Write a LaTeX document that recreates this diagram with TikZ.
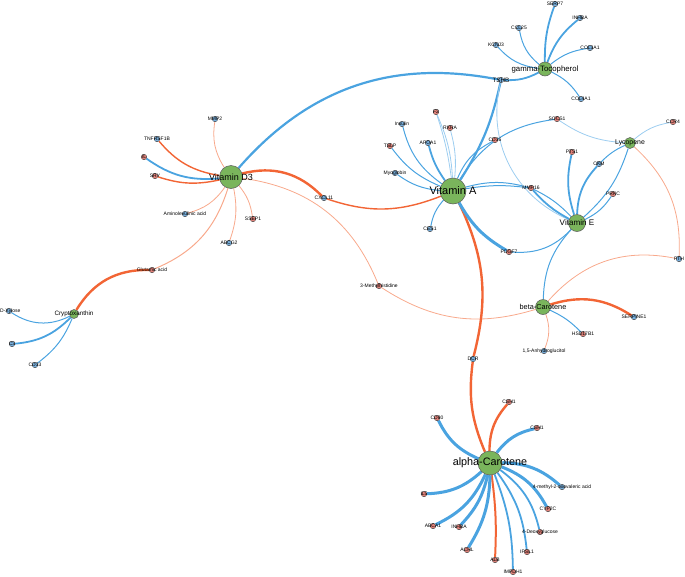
\documentclass[tikz,border=0pt]{standalone}
\usepackage{fontspec}
\setmainfont{Liberation Sans}
\usetikzlibrary{backgrounds}
\definecolor{bl}{HTML}{4AA3E0}
\definecolor{lbl}{HTML}{9CCDF0}
\definecolor{orr}{HTML}{F26535}
\definecolor{lor}{HTML}{F8A98C}
\definecolor{hubg}{HTML}{7AB55C}
\definecolor{nred}{HTML}{E0827A}
\definecolor{nblue}{HTML}{78AEDB}
\begin{document}
\begin{tikzpicture}[x=1pt,y=-1pt,
  hub/.style={circle,draw=black!65,fill=hubg,line width=0.5pt,inner sep=0pt},
  rn/.style={circle,draw=black!75,fill=nred,minimum size=5.5pt,inner sep=0pt,line width=0.4pt},
  bn/.style={circle,draw=black!75,fill=nblue,minimum size=5.5pt,inner sep=0pt,line width=0.4pt},
  sl/.style={font=\fontsize{5}{5}\selectfont,inner sep=0pt},
  hl/.style={inner sep=0pt},
  bthick/.style={draw=bl,line width=3pt},
  bmed/.style={draw=bl,line width=1.8pt},
  bthin/.style={draw=bl,line width=1pt},
  blight/.style={draw=lbl,line width=0.8pt},
  othick/.style={draw=orr,line width=2.4pt},
  omed/.style={draw=orr,line width=1.4pt},
  othin/.style={draw=lor,line width=0.8pt}]
\useasboundingbox (0,0) rectangle (685,576);
% hubs
\node[hub,minimum size=26pt] (vA) at (453,191) {};
\node[hub,minimum size=23pt] (vD) at (231,177) {};
\node[hub,minimum size=14pt] (gT) at (545,69) {};
\node[hub,minimum size=11pt] (ly) at (630,143) {};
\node[hub,minimum size=17pt] (vE) at (577,223) {};
\node[hub,minimum size=15pt] (bC) at (543,307) {};
\node[hub,minimum size=9pt] (cr) at (74,314) {};
\node[hub,minimum size=24pt] (aC) at (490,463) {};
% small nodes
\node[bn] (tshb) at (501,80) {};
\node[bn] (mmp2) at (215,119) {};
\node[bn] (tnf) at (157,139) {};
\node[rn] (il) at (144,157) {};
\node[rn] (sry) at (155,176) {};
\node[bn] (amino) at (185,214) {};
\node[rn] (ssep) at (253,219) {};
\node[bn] (abcg) at (229,243) {};
\node[rn] (glu) at (152,270) {};
\node[bn] (cxcl) at (324,198) {};
\node[bn] (dxyl) at (9,311) {};
\node[bn] (c3) at (12,344) {};
\node[bn] (cd33) at (35,365) {};
\node[rn] (mh) at (379,286) {};
\node[bn] (dcr) at (473,359) {};
\node[rn] (f2) at (436,112) {};
\node[bn] (ins) at (402,124) {};
\node[rn] (rxra) at (450,128) {};
\node[rn] (tslp) at (390,146) {};
\node[bn] (apoa) at (428,143) {};
\node[bn] (myo) at (395,173) {};
\node[rn] (cd36) at (495,140) {};
\node[rn] (mmp16) at (531,188) {};
\node[bn] (ces1) at (430,229) {};
\node[rn] (pdgf) at (509,252) {};
\node[rn] (socs) at (557,119) {};
\node[bn] (serp) at (555,4) {};
\node[bn] (inhba) at (580,18) {};
\node[bn] (col3) at (590,48) {};
\node[bn] (ccl25) at (519,28) {};
\node[bn] (kcnj) at (496,45) {};
\node[bn] (col4) at (581,99) {};
\node[rn] (ccr4) at (673,122) {};
\node[rn] (pts1) at (572,152) {};
\node[bn] (ckm) at (599,164) {};
\node[rn] (prkc) at (613,194) {};
\node[bn] (pth) at (679,259) {};
\node[bn] (serpine) at (634,317) {};
\node[rn] (hsd) at (583,334) {};
\node[bn] (ag) at (544,351) {};
\node[rn] (csh1a) at (509,402) {};
\node[rn] (cd80) at (437,418) {};
\node[rn] (csh1b) at (537,428) {};
\node[bn] (mox) at (562,487) {};
\node[rn] (cyp) at (548,509) {};
\node[rn] (deox) at (540,532) {};
\node[rn] (ipsl) at (527,552) {};
\node[rn] (impdh) at (513,572) {};
\node[rn] (alb) at (495,560) {};
\node[rn] (achl) at (467,550) {};
\node[rn] (inhb2) at (459,527) {};
\node[rn] (abca) at (433,526) {};
\node[rn] (il5) at (424,494) {};
% edges
\begin{pgfonlayer}{background}
\draw[othin] (vD) to[bend left=20] (mmp2);
\draw[omed] (vD) to[bend left=20] (tnf);
\draw[bmed] (vD) to[bend left=20] (il);
\draw[omed] (vD) to[bend left=15] (sry);
\draw[othin] (vD) to[bend left=20] (amino);
\draw[othin] (vD) to[bend left=15] (ssep);
\draw[othin] (vD) to[bend left=15] (abcg);
\draw[othin,line width=1pt] (vD) to[bend left=25] (glu);
\draw[othick] (vD) to[bend left=30] (cxcl);
\draw[othin] (vD) to[bend left=30] (mh);
\draw[bmed,line width=2.2pt] (vD) to[bend left=30] (tshb);
\draw[othick] (glu) to[bend right=30] (cr);
\draw[bthin] (cr) to[bend left=30] (dxyl);
\draw[bmed] (cr) to[bend left=20] (c3);
\draw[bthin] (cr) to[bend left=15] (cd33);
\draw[omed] (cxcl) to[bend right=20] (vA);
\draw[othin] (mh) to[bend right=25] (bC);
\draw[othick] (vA) to[bend left=20] (dcr);
\draw[othick] (dcr) to[bend right=15] (aC);
\draw[blight] (vA) to[bend right=10] (f2);
\draw[blight] (vA) to[bend right=5] (f2);
\draw[bthin] (vA) to[bend left=20] (ins);
\draw[blight] (vA) to[bend right=10] (rxra);
\draw[bthin] (vA) to[bend left=15] (tslp);
\draw[bmed] (vA) to[bend left=10] (apoa);
\draw[bthin] (vA) to[bend left=15] (myo);
\draw[bthin] (vA) to[bend left=20] (cd36);
\draw[bthin] (vA) to[bend left=25] (socs);
\draw[bthin] (vA) to[bend left=15] (mmp16);
\draw[bthin] (vA) to[bend left=8] (mmp16);
\draw[bthin] (vA) to[bend right=15] (ces1);
\draw[bthick] (vA) to[bend right=15] (pdgf);
\draw[bmed,line width=2.2pt] (vA) to[bend right=10] (tshb);
\draw[bmed] (tshb) to[bend right=15] (gT);
\draw[blight] (tshb) to[bend right=40] (vE);
\draw[bthin] (gT) to[bend left=20] (kcnj);
\draw[bthin] (gT) to[bend left=20] (ccl25);
\draw[bmed] (gT) to[bend left=10] (serp);
\draw[bmed] (gT) to[bend left=15] (inhba);
\draw[bthin] (gT) to[bend left=15] (col3);
\draw[bthin] (gT) to[bend left=15] (col4);
\draw[blight] (socs) to[bend right=15] (ly);
\draw[blight] (ly) to[bend left=15] (ccr4);
\draw[bthin] (ly) to[bend right=10] (ckm);
\draw[bthin] (ly) to[bend left=15] (vE);
\draw[othin] (ly) to[bend left=25] (pth);
\draw[bmed] (vE) to[bend left=20] (ckm);
\draw[bmed] (vE) to[bend left=15] (pts1);
\draw[bthin] (vE) to[bend right=15] (prkc);
\draw[bmed] (vE) to[bend left=10] (mmp16);
\draw[bthin] (vE) to[bend right=10] (mmp16);
\draw[bthin] (vE) to[bend left=25] (pdgf);
\draw[bthin] (vE) to[bend right=20] (bC);
\draw[othin] (bC) to[bend left=30] (pth);
\draw[othick] (bC) to[bend left=25] (serpine);
\draw[bthin] (bC) to[bend left=10] (hsd);
\draw[othin] (bC) to[bend left=20] (ag);
\draw[othick] (aC) to[bend left=20] (csh1a);
\draw[bthick] (aC) to[bend left=20] (cd80);
\draw[bthick] (aC) to[bend left=20] (csh1b);
\draw[bthick] (aC) to[bend left=20] (mox);
\draw[bthick] (aC) to[bend left=20] (cyp);
\draw[bmed] (aC) to[bend left=20] (deox);
\draw[bmed] (aC) to[bend left=15] (ipsl);
\draw[bmed] (aC) to[bend left=10] (impdh);
\draw[othick,line width=2pt] (aC) to[bend left=5] (alb);
\draw[bthick] (aC) to[bend left=15] (achl);
\draw[bthick] (aC) to[bend left=15] (inhb2);
\draw[bthick] (aC) to[bend left=20] (abca);
\draw[bthick] (aC) to[bend left=20] (il5);
\end{pgfonlayer}
% hub labels
\node[hl,font=\fontsize{11}{11}\selectfont] at (vA) {Vitamin A};
\node[hl,font=\fontsize{9}{9}\selectfont] at (vD) {Vitamin D3};
\node[hl,font=\fontsize{7.8}{8}\selectfont] at (gT) {gamma-Tocopherol};
\node[hl,font=\fontsize{6.9}{7}\selectfont] at (ly) {Lycopene};
\node[hl,font=\fontsize{8.1}{8}\selectfont] at (vE) {Vitamin E};
\node[hl,font=\fontsize{7.3}{7}\selectfont] at (bC) {beta-Carotene};
\node[hl,font=\fontsize{6.3}{6}\selectfont] at (cr) {Cryptoxanthin};
\node[hl,font=\fontsize{10.8}{11}\selectfont] at (aC) {alpha-Carotene};
\node[hl,font=\fontsize{6.3}{6}\selectfont] at (tshb) {TSHB};
% small labels
\node[sl] at (mmp2) {MMP2};
\node[sl] at (tnf) {TNFRSF1B};
\node[sl] at (il) {IL};
\node[sl] at (sry) {SRY};
\node[sl] at (amino) {Aminolevulinic acid};
\node[sl] at (ssep) {SSEP1};
\node[sl] at (abcg) {ABCG2};
\node[sl] at (glu) {Glutamic acid};
\node[sl] at (cxcl) {CXCL11};
\node[sl,anchor=west] at ([xshift=-9pt]dxyl) {D-Xylose};
\node[sl] at (c3) {C3};
\node[sl] at (cd33) {CD33};
\node[sl] at (mh) {3-Methylhistidine};
\node[sl] at (dcr) {DCR};
\node[sl] at (f2) {F2};
\node[sl] at (ins) {Insulin};
\node[sl] at (rxra) {RXRA};
\node[sl] at (tslp) {TSLP};
\node[sl] at (apoa) {APOA1};
\node[sl] at (myo) {Myoglobin};
\node[sl] at (cd36) {CD36};
\node[sl] at (mmp16) {MMP16};
\node[sl] at (ces1) {CES1};
\node[sl] at (pdgf) {PDGF7};
\node[sl] at (socs) {SOCS1};
\node[sl] at (serp) {SERP7};
\node[sl] at (inhba) {INHBA};
\node[sl] at (col3) {COL3A1};
\node[sl] at (ccl25) {CCL25};
\node[sl] at (kcnj) {KCNJ3};
\node[sl] at (col4) {COL4A1};
\node[sl] at (ccr4) {CCR4};
\node[sl] at (pts1) {PTS1};
\node[sl] at (ckm) {CKM};
\node[sl] at (prkc) {PRKC};
\node[sl] at (pth) {PTH};
\node[sl] at (serpine) {SERPINE1};
\node[sl] at (hsd) {HSD17B1};
\node[sl] at (ag) {1,5-Anhydroglucitol};
\node[sl] at (csh1a) {CSH1};
\node[sl] at (cd80) {CD80};
\node[sl] at (csh1b) {CSH1};
\node[sl] at (mox) {4-methyl-2-oxovaleric acid};
\node[sl] at (cyp) {CYP2C};
\node[sl] at (deox) {4-Deoxyglucose};
\node[sl] at (ipsl) {IPSL1};
\node[sl] at (impdh) {IMPDH1};
\node[sl] at (alb) {ALB};
\node[sl] at (achl) {ACHL};
\node[sl] at (inhb2) {INHBA};
\node[sl] at (abca) {ABCA1};
\node[sl] at (il5) {IL5};
\end{tikzpicture}
\end{document}
